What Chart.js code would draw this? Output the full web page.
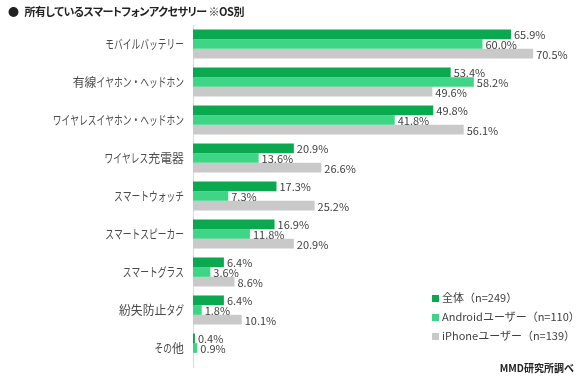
<!DOCTYPE html>
<html lang="ja">
<head>
<meta charset="utf-8">
<script src="https://cdn.jsdelivr.net/npm/chart.js@4/dist/chart.umd.min.js"></script>
<style>
  body { margin: 0; background: #fff; font-family: "Noto Sans CJK JP", sans-serif; }
  #wrap { position: relative; width: 580px; height: 380px; }
  #title { position: absolute; left: 8px; top: 3px; font-size: 11px; font-weight: bold; color: #222; font-feature-settings: "palt"; letter-spacing: -0.5px; }
  #title span { margin-right: 6px; }
  #legend { position: absolute; left: 432px; top: 288px; font-size: 11px; color: #404040; }
  #legend div { height: 19px; line-height: 19px; white-space: nowrap; }
  #legend i { display: inline-block; width: 7px; height: 7px; margin-right: 3px; vertical-align: 0px; }
  #source { position: absolute; right: 6px; top: 360px; font-size: 10px; font-weight: bold; color: #222; }
</style>
</head>
<body>
<div id="wrap">
  <canvas id="chartAksesori" width="580" height="380"></canvas>
  <div id="title"><span>●</span>所有しているスマートフォンアクセサリー ※OS別</div>
  <div id="legend"></div>
  <div id="source">MMD研究所調べ</div>
</div>
<script>
const categories = [
  "モバイルバッテリー",
  "有線イヤホン・ヘッドホン",
  "ワイヤレスイヤホン・ヘッドホン",
  "ワイヤレス充電器",
  "スマートウォッチ",
  "スマートスピーカー",
  "スマートグラス",
  "紛失防止タグ",
  "その他",
];
const seriesNames = ["全体（n=249）", "Androidユーザー（n=110）", "iPhoneユーザー（n=139）"];
const zentai = [65.9, 53.4, 49.8, 20.9, 17.3, 16.9, 6.4, 6.4, 0.4];
const android = [60.0, 58.2, 41.8, 13.6, 7.3, 11.8, 3.6, 1.8, 0.9];
const iphone = [70.5, 49.6, 56.1, 26.6, 25.2, 20.9, 8.6, 10.1, null];
const colors = ["#0aa84f", "#3ed686", "#c9c9c9"];

// label persen di ujung batang
const labelPlugin = {
  id: "labelPersen",
  afterDatasetsDraw(chart) {
    const ctx = chart.ctx;
    ctx.save();
    ctx.font = '11px "Noto Sans CJK JP"';
    ctx.fillStyle = "#404040";
    ctx.textAlign = "left";
    ctx.textBaseline = "middle";
    chart.data.datasets.forEach((ds, i) => {
      chart.getDatasetMeta(i).data.forEach((bar, j) => {
        const v = ds.data[j];
        if (v === null || v === undefined) return;
        ctx.fillText(v.toFixed(1) + "%", bar.x + 3, bar.y + 1);
      });
    });
    ctx.restore();
  },
};

// label kategori: kana dipersempit seperti font aslinya
const kanaPlugin = {
  id: "labelKategori",
  afterDraw(chart) {
    const ctx = chart.ctx;
    const sc = chart.scales.y;
    const right = sc.right - 9;
    ctx.save();
    ctx.font = '12.5px "Noto Sans CJK JP"';
    ctx.fillStyle = "#4a4a4a";
    ctx.textBaseline = "middle";
    ctx.textAlign = "left";
    categories.forEach((txt, i) => {
      const y = sc.getPixelForTick(i);
      const chars = Array.from(txt).map((c) => {
        const code = c.charCodeAt(0);
        const k = code >= 0x3040 && code <= 0x30ff ? 0.7 : 0.95;
        return { c, k, w: ctx.measureText(c).width * k };
      });
      let x = right - chars.reduce((a, o) => a + o.w, 0);
      chars.forEach((o) => {
        ctx.save();
        ctx.translate(x, y);
        ctx.scale(o.k, 1);
        ctx.fillText(o.c, 0, 0);
        ctx.restore();
        x += o.w;
      });
    });
    ctx.restore();
  },
};

const ctxAks = document.getElementById("chartAksesori");
const chartAks = new Chart(ctxAks.getContext("2d"), {
  type: "bar",
  data: {
    labels: categories,
    datasets: [
      { label: seriesNames[0], data: zentai, backgroundColor: colors[0] },
      { label: seriesNames[1], data: android, backgroundColor: colors[1] },
      { label: seriesNames[2], data: iphone, backgroundColor: colors[2] },
    ],
  },
  options: {
    indexAxis: "y",
    responsive: false,
    animation: false,
    layout: { padding: { top: 25, bottom: 13, right: 1, left: 0 } },
    datasets: { bar: { categoryPercentage: 0.765, barPercentage: 1.0 } },
    plugins: { legend: { display: false }, tooltip: { enabled: false } },
    scales: {
      x: { display: false, min: 0, max: 80 },
      y: {
        afterFit: (s) => { s.width = 193; },
        grid: { display: false, drawTicks: false },
        border: { display: true, color: "#d9d9d9" },
        ticks: { display: false },
      },
    },
  },
  plugins: [labelPlugin, kanaPlugin],
});

const legendEl = document.getElementById("legend");
seriesNames.forEach((n, i) => {
  const row = document.createElement("div");
  row.innerHTML = `<i style="background:${colors[i]}"></i>${n}`;
  legendEl.appendChild(row);
});
</script>
</body>
</html>
